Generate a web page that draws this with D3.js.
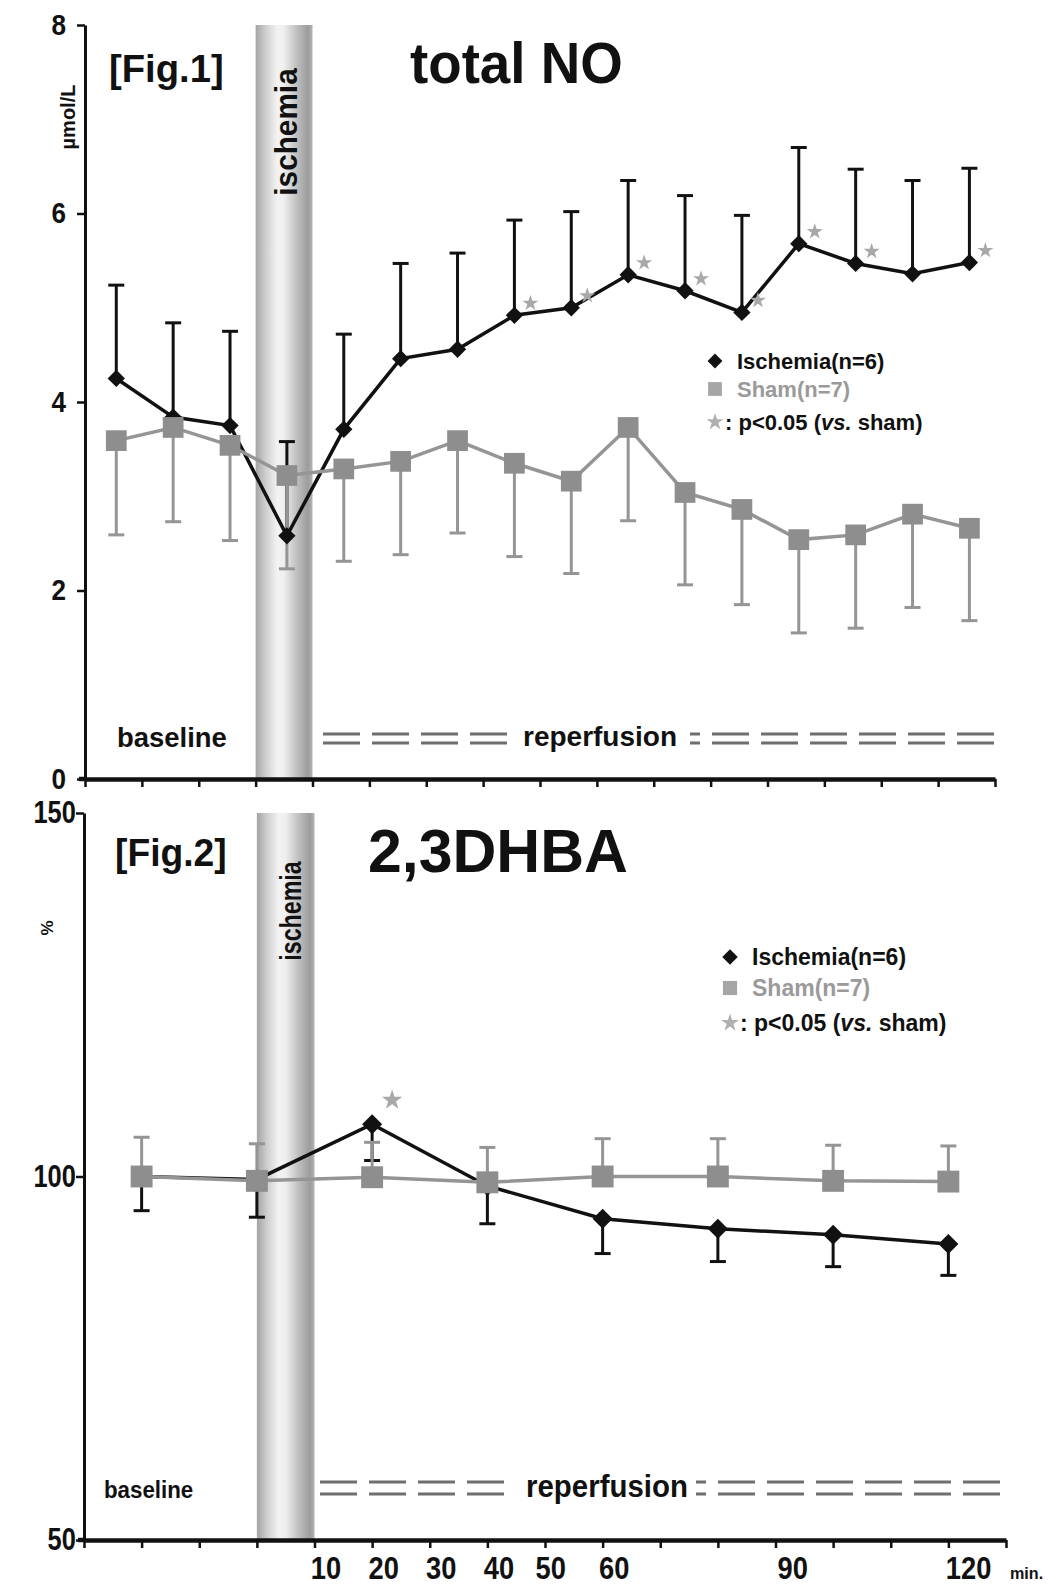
<!DOCTYPE html>
<html><head><meta charset="utf-8">
<script src="https://cdn.jsdelivr.net/npm/d3@7"></script>
<style>
body{margin:0;background:#fff}
svg{display:block}
text{font-family:"Liberation Sans",Arial,Helvetica,sans-serif;font-weight:bold}
</style>
</head><body>
<svg id="chart" width="1056" height="1589"></svg>
<script>
// ---------- DATA ----------
// Fig.1 total NO (µmol/L), 16 sampling slots (3 baseline, 1 ischemia, 12 reperfusion)
const noSlots = d3.range(16);
const noIschemia   = [4.25,3.84,3.75,2.58,3.71,4.46,4.56,4.92,5.00,5.35,5.18,4.95,5.68,5.47,5.36,5.48];
const noIschemiaSD = [0.99,1.00,1.00,1.00,1.01,1.01,1.02,1.01,1.02,1.00,1.01,1.03,1.02,1.00,0.99,1.00];
const noSham       = [3.59,3.73,3.54,3.22,3.29,3.37,3.59,3.35,3.16,3.73,3.04,2.86,2.54,2.59,2.81,2.66];
const noShamSD     = [1.00,1.00,1.01,0.99,0.98,0.99,0.98,0.99,0.98,0.99,0.98,1.01,0.99,0.99,0.99,0.98];
const noSig        = [0,0,0,0,0,0,0,1,1,1,1,1,1,1,0,1];
const noYTicks = [0,2,4,6,8];

// Fig.2 2,3DHBA (% of baseline), 8 sampling points on the 16-slot axis
const dhbaSlots       = [1,3,5,7,9,11,13,15];
const dhbaIschemia    = [100,99.6,107.2,98.7,94.2,92.8,92.0,90.7];
const dhbaIschemiaSD  = [4.7,5.2,5.0,5.2,4.8,4.5,4.4,4.3];
const dhbaSham        = [100,99.4,99.9,99.2,100,100,99.4,99.3];
const dhbaShamSD      = [5.4,5.1,4.8,4.8,5.2,5.2,4.9,4.9];
const dhbaSig         = [0,0,1,0,0,0,0,0];
const dhbaYTicks = [50,100,150];

const timeLabels     = ["10","20","30","40","50","60","90","120"];
const timeLabelSlots = [4.2,5.2,6.2,7.2,8.1,9.2,12.3,15.35];

const legendLabels = ["Ischemia(n=6)","Sham(n=7)"];
const ischemiaSlot = [3,4];

// ---------- STYLE ----------
const BLACK = "#111", GRAY = "#959595", GRAYMARK = "#8e8e8e";

const svg = d3.select("#chart");
const defs = svg.append("defs");
const grad = defs.append("linearGradient").attr("id","band").attr("x1","0").attr("x2","1").attr("y1","0").attr("y2","0");
[["0%","#a4a4a4"],["18%","#cfcfcf"],["38%","#f3f3f3"],["50%","#eeeeee"],["72%","#c0c0c0"],["92%","#9c9c9c"],["100%","#b4b4b4"]]
  .forEach(([o,c])=>grad.append("stop").attr("offset",o).attr("stop-color",c));

function txt(g, x, y, s, o={}) {
  const t = g.append("text")
    .attr("transform", `translate(${x},${y}) rotate(${o.rot||0}) scale(${o.sx||1},1)`)
    .attr("font-size", o.size||20)
    .attr("text-anchor", o.anchor||"start")
    .attr("fill", o.fill||BLACK);
  if (o.weight) t.attr("font-weight", o.weight);
  t.text(s);
  return t;
}

const star = (size)=>d3.symbol(d3.symbolStar, size)();
const sq = (size)=>d3.symbol(d3.symbolSquare, size)();

function panel(cfg) {
  const g = svg.append("g");
  const x = d3.scaleLinear().domain([0,16]).range(cfg.xr);
  const y = d3.scaleLinear().domain(cfg.yd).range(cfg.yr);

  // ischemia band
  g.append("rect")
    .attr("x", x(ischemiaSlot[0])).attr("y", y(cfg.yd[1]))
    .attr("width", x(ischemiaSlot[1]) - x(ischemiaSlot[0]))
    .attr("height", y(cfg.yd[0]) - y(cfg.yd[1]))
    .attr("fill","url(#band)");
  txt(g, cfg.ischTxt[0], cfg.ischTxt[1], "ischemia", {size:cfg.ischSize, rot:-90, anchor:"middle", sx:cfg.ischSx});

  // axes
  const ya = d3.axisLeft(y).tickValues(cfg.yTicks).tickSize(8).tickSizeOuter(0).tickPadding(cfg.yPad).tickFormat(d3.format("d"));
  const yg = g.append("g").attr("transform",`translate(${cfg.xr[0]},0)`).call(ya);
  yg.select(".domain").attr("stroke",BLACK).attr("stroke-width",3);
  yg.selectAll(".tick line").attr("stroke",BLACK).attr("stroke-width",2.5);
  yg.selectAll(".tick text").attr("font-size",cfg.yFont).attr("fill",BLACK)
    .attr("font-family",'"Liberation Sans",Arial,sans-serif').attr("font-weight","bold")
    .attr("transform",`scale(${cfg.yFontSx},1)`);

  const xa = d3.axisBottom(x).tickValues(d3.range(17)).tickSize(8).tickSizeOuter(0).tickFormat("");
  const xg = g.append("g").attr("transform",`translate(0,${cfg.yr[0]})`).call(xa);
  xg.select(".domain").attr("stroke",BLACK).attr("stroke-width",4.5);
  xg.selectAll(".tick line").attr("stroke",BLACK).attr("stroke-width",2.5);
  g.append("line").attr("x1",cfg.xr[0]-6).attr("x2",cfg.xr[0]).attr("y1",cfg.yr[0]).attr("y2",cfg.yr[0])
    .attr("stroke",BLACK).attr("stroke-width",4.5);

  // unit label
  txt(g, cfg.unit[0], cfg.unit[1], cfg.unitText, {size:cfg.unitSize, rot:-90, anchor:"middle"});

  // titles
  txt(g, cfg.figPos[0], cfg.figPos[1], cfg.figText, {size:cfg.figSize, sx:cfg.figSx});
  txt(g, cfg.titlePos[0], cfg.titlePos[1], cfg.title, {size:cfg.titleSize, sx:cfg.titleSx});

  // baseline / reperfusion
  txt(g, cfg.basePos[0], cfg.basePos[1], "baseline", {size:cfg.baseSize, sx:cfg.baseSx});
  txt(g, cfg.repPos[0], cfg.repPos[1], "reperfusion", {size:cfg.repSize, sx:cfg.repSx});
  cfg.dashY.forEach(dy=>{
    g.append("line").attr("x1",cfg.dash1[0]).attr("x2",cfg.dash1[1]).attr("y1",dy).attr("y2",dy)
      .attr("stroke","#6e6e6e").attr("stroke-width",3.2).attr("stroke-dasharray","37 12");
    g.append("line").attr("x1",cfg.dash2[0]).attr("x2",cfg.dash2[1]).attr("y1",dy).attr("y2",dy)
      .attr("stroke","#6e6e6e").attr("stroke-width",3.2).attr("stroke-dasharray","37 12").attr("stroke-dashoffset",27);
  });

  const px = i => x(cfg.slots[i] + cfg.slotShift);
  const n = cfg.slots.length;
  const idx = d3.range(n);

  // error bars
  const cap = 8;
  idx.forEach(i=>{
    const yi = cfg.isch[i], ei = cfg.ischDir * cfg.ischSD[i];
    g.append("line").attr("x1",px(i)).attr("x2",px(i)).attr("y1",y(yi)).attr("y2",y(yi+ei))
      .attr("stroke",BLACK).attr("stroke-width",3);
    g.append("line").attr("x1",px(i)-cap).attr("x2",px(i)+cap).attr("y1",y(yi+ei)).attr("y2",y(yi+ei))
      .attr("stroke",BLACK).attr("stroke-width",3);
  });
  idx.forEach(i=>{
    const ys = cfg.sham[i], es = cfg.shamDir * cfg.shamSD[i];
    g.append("line").attr("x1",px(i)).attr("x2",px(i)).attr("y1",y(ys)).attr("y2",y(ys+es))
      .attr("stroke",GRAY).attr("stroke-width",3);
    g.append("line").attr("x1",px(i)-cap).attr("x2",px(i)+cap).attr("y1",y(ys+es)).attr("y2",y(ys+es))
      .attr("stroke",GRAY).attr("stroke-width",3);
  });

  // ischemia line + diamonds
  const line = d3.line().x((d,i)=>px(i)).y(d=>y(d));
  g.append("path").datum(cfg.isch).attr("d",line).attr("fill","none").attr("stroke",BLACK).attr("stroke-width",3.5);
  g.selectAll(null).data(cfg.isch).join("path")
    .attr("d", sq(cfg.diaSize))
    .attr("transform",(d,i)=>`translate(${px(i)},${y(d)}) rotate(45)`)
    .attr("fill",BLACK);

  // sham line + squares
  g.append("path").datum(cfg.sham).attr("d",line).attr("fill","none").attr("stroke",GRAY).attr("stroke-width",3.5);
  g.selectAll(null).data(cfg.sham).join("path")
    .attr("d", sq(cfg.sqSize))
    .attr("transform",(d,i)=>`translate(${px(i)},${y(d)})`)
    .attr("fill",GRAYMARK);

  // significance stars
  g.selectAll(null).data(idx.filter(i=>cfg.sig[i])).join("path")
    .attr("d", star(cfg.starSize))
    .attr("transform",i=>`translate(${px(i)+cfg.starOff[0]},${y(cfg.isch[i])+cfg.starOff[1]})`)
    .attr("fill","#a8a8a8");

  // x tick labels
  if (cfg.xLabels) {
    cfg.xLabels.forEach((l,k)=>{
      txt(g, x(cfg.xLabelSlots[k]), cfg.xLabelY, l, {size:31, sx:0.88, anchor:"middle"});
    });
    txt(g, cfg.xr[1]+4, cfg.xLabelY, "min.", {size:17, sx:0.95});
  }

  // legend
  const L = cfg.legend;
  g.append("path").attr("d", sq(L.dia)).attr("transform",`translate(${L.x},${L.y[0]}) rotate(45)`).attr("fill",BLACK);
  g.append("path").attr("d", sq(L.sq)).attr("transform",`translate(${L.x},${L.y[1]})`).attr("fill","#a6a6a6");
  g.append("path").attr("d", star(L.star)).attr("transform",`translate(${L.x},${L.y[2]})`).attr("fill","#b0b0b0");
  txt(g, L.tx, L.y[0]+8, legendLabels[0], {size:L.size, sx:L.sx});
  txt(g, L.tx, L.y[1]+8, legendLabels[1], {size:L.size, sx:L.sx, fill:"#9a9a9a", weight:"normal"});
  const t3 = g.append("text").attr("transform",`translate(${L.x+10},${L.y[2]+8}) scale(${L.sx},1)`)
    .attr("font-size",L.size).attr("fill",BLACK);
  t3.append("tspan").text(": p<0.05 (");
  t3.append("tspan").attr("font-style","italic").text("vs.");
  t3.append("tspan").text(" sham)");
}

// Fig.1
panel({
  slots: noSlots, slotShift: 0.55,
  isch: noIschemia, ischSD: noIschemiaSD, ischDir: 1,
  sham: noSham, shamSD: noShamSD, shamDir: -1,
  sig: noSig,
  xr:[85,995], yd:[0,8], yr:[779,25], yTicks: noYTicks, yPad: 13, yFont: 29, yFontSx: 0.9,
  ischTxt:[297,132], ischSize:31, ischSx:0.96,
  unit:[75,117], unitText:"µmol/L", unitSize:20,
  figPos:[109,82], figText:"[Fig.1]", figSize:39, figSx:0.98,
  titlePos:[410,83], title:"total NO", titleSize:57, titleSx:0.96,
  basePos:[117,747], baseSize:28, baseSx:0.98,
  repPos:[523,746], repSize:28, repSx:1,
  dashY:[734,743], dash1:[323,508], dash2:[690,1001],
  diaSize:150, sqSize:430, starSize:80, starOff:[16,-12],
  legend:{x:715, y:[361,389,422], tx:737, size:22, sx:1, dia:110, sq:190, star:90}
});

// Fig.2
panel({
  slots: dhbaSlots, slotShift: 0,
  isch: dhbaIschemia, ischSD: dhbaIschemiaSD, ischDir: -1,
  sham: dhbaSham, shamSD: dhbaShamSD, shamDir: 1,
  sig: dhbaSig,
  xr:[84,1006], yd:[50,150], yr:[1540,813], yTicks: dhbaYTicks, yPad: 2, yFont: 31, yFontSx: 0.82,
  ischTxt:[301,911], ischSize:29, ischSx:0.8,
  unit:[53,928], unitText:"%", unitSize:17,
  figPos:[115,866], figText:"[Fig.2]", figSize:38, figSx:0.98,
  titlePos:[368,872], title:"2,3DHBA", titleSize:62, titleSx:0.98,
  basePos:[104,1498], baseSize:24, baseSx:0.93,
  repPos:[526,1497], repSize:31, repSx:0.95,
  dashY:[1482,1494], dash1:[320,505], dash2:[696,1010],
  diaSize:200, sqSize:480, starSize:130, starOff:[20,-24],
  xLabels: timeLabels, xLabelSlots: timeLabelSlots, xLabelY:1579,
  legend:{x:730, y:[957,988,1023], tx:752, size:23, sx:1, dia:120, sq:200, star:100}
});
</script>
</body></html>
